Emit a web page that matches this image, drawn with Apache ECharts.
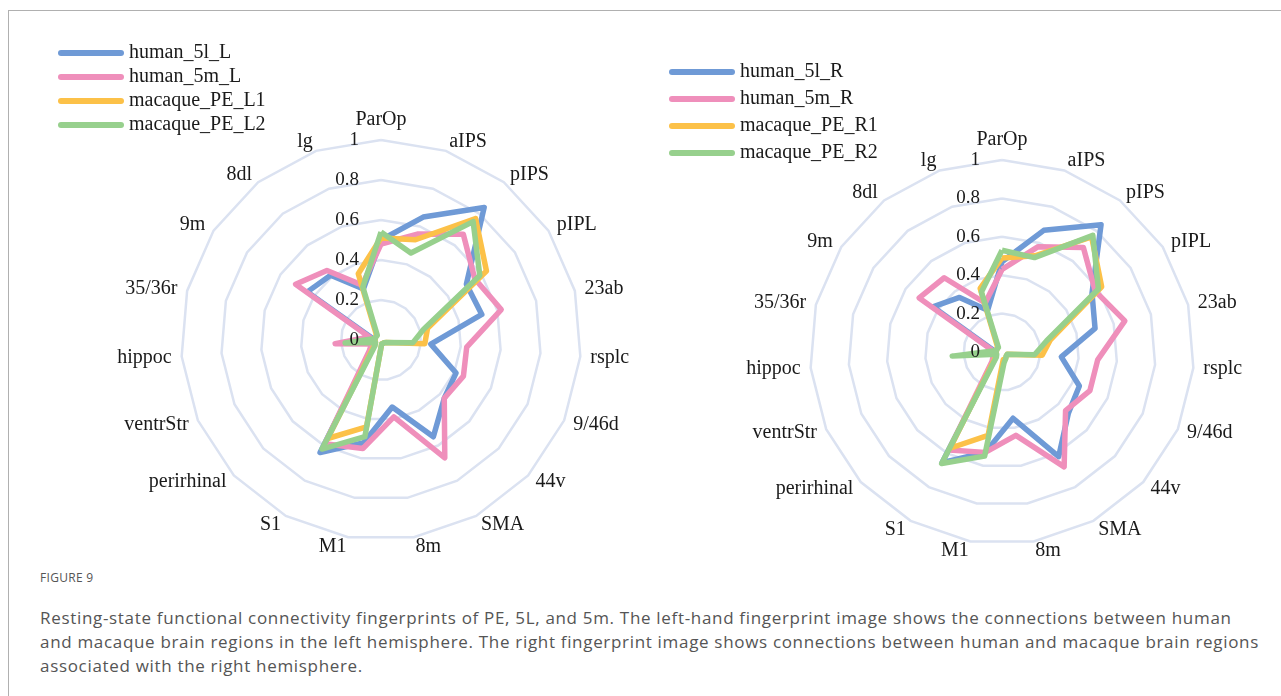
<!DOCTYPE html>
<html><head><meta charset="utf-8">
<script src="https://cdn.jsdelivr.net/npm/echarts@6/dist/echarts.min.js"></script>
<style>
html,body{margin:0;padding:0;background:#fff;}
#wrap{position:relative;width:1281px;height:696px;overflow:hidden;background:#fff;}
#frame{position:absolute;left:8px;top:10px;width:1400px;height:800px;border-left:1px solid #b0b0b0;border-top:1px solid #b0b0b0;}
#chart{position:absolute;left:0;top:0;width:1281px;height:560px;}
#fig{position:absolute;left:40px;top:569px;font:12px 'Open Sans';color:#555;letter-spacing:0.3px;}
#cap{position:absolute;left:40px;top:606px;font:17px/24px 'Open Sans';color:#555;letter-spacing:0.68px;white-space:nowrap;}
</style></head>
<body>
<div id="wrap">
  <div id="frame"></div>
  <div id="chart"></div>
  <div id="fig">FIGURE 9</div>
  <div id="cap">Resting-state functional connectivity fingerprints of PE, 5L, and 5m. The left-hand fingerprint image shows the connections between human<br>and macaque brain regions in the left hemisphere. The right fingerprint image shows connections between human and macaque brain regions<br>associated with the right hemisphere.</div>
</div>
<script>
// Categories in clockwise order starting at the top
const categories = ['ParOp','aIPS','pIPS','pIPL','23ab','rsplc','9/46d','44v','SMA','8m','M1','S1','perirhinal','ventrStr','hippoc','35/36r','9m','8dl','lg'];

// Left hemisphere
const human_5l_L    = [0.50,0.65,0.84,0.51,0.52,0.25,0.41,0.43,0.55,0.34,0.52,0.64,0.06,0.04,0.03,0.05,0.44,0.41,0.27];
const human_5m_L    = [0.48,0.56,0.67,0.56,0.62,0.43,0.45,0.43,0.67,0.39,0.55,0.59,0.08,0.05,0.23,0.06,0.51,0.44,0.29];
const macaque_PE_L1 = [0.51,0.53,0.77,0.63,0.24,0.22,0.03,0.02,0.02,0.02,0.44,0.56,0.05,0.03,0.03,0.03,0.03,0.04,0.35];
const macaque_PE_L2 = [0.54,0.46,0.75,0.59,0.22,0.16,0.03,0.02,0.02,0.02,0.49,0.62,0.04,0.03,0.18,0.03,0.03,0.03,0.28];

// Right hemisphere
const human_5l_R    = [0.47,0.67,0.84,0.56,0.50,0.31,0.44,0.47,0.62,0.35,0.53,0.655,0.05,0.04,0.03,0.05,0.43,0.36,0.23];
const human_5m_R    = [0.43,0.58,0.69,0.58,0.66,0.50,0.50,0.45,0.68,0.44,0.53,0.58,0.07,0.05,0.04,0.06,0.515,0.49,0.27];
const macaque_PE_R1 = [0.49,0.53,0.76,0.62,0.26,0.21,0.03,0.03,0.04,0.04,0.44,0.57,0.05,0.04,0.03,0.03,0.03,0.04,0.35];
const macaque_PE_R2 = [0.53,0.52,0.77,0.60,0.24,0.17,0.03,0.03,0.04,0.06,0.55,0.66,0.04,0.03,0.26,0.03,0.03,0.03,0.33];

const leftNames  = ['human_5l_L','human_5m_L','macaque_PE_L1','macaque_PE_L2'];
const rightNames = ['human_5l_R','human_5m_R','macaque_PE_R1','macaque_PE_R2'];
const tickLabels = ['0','0.2','0.4','0.6','0.8','1'];

const colors = ['#6f9ad6','#ef8fbb','#fcc148','#97d08d'];
const serif = 'Liberation Serif';

// ECharts radar runs counter-clockwise; reorder so the picture runs clockwise
const n = categories.length;
const order = [0].concat(Array.from({length:n-1},(_,k)=>n-1-k));
const reorder = arr => order.map(i => arr[i]);

const labelStyle = {margin:22, color:'#1a1a1a', fontFamily:serif, fontSize:19,
  formatter: v => tickLabels[Math.round(v*5)]};

function indicators(withLabels){
  return order.map((i,k) => {
    const o = {name: categories[i], min:0, max:1};
    if (withLabels && k === 0) o.axisLabel = Object.assign({show:true}, labelStyle);
    return o;
  });
}
// main grid with names
function radarMain(center, radius){
  return {
    center, radius, shape:'polygon', splitNumber:5, startAngle:90, z:1,
    indicator: indicators(false),
    axisName:{color:'#1a1a1a', fontFamily:serif, fontSize:20},
    nameGap:10,
    axisLine:{show:false}, axisTick:{show:false}, axisLabel:{show:false},
    splitLine:{lineStyle:{color:'#dbe2f1', width:2.5}},
    splitArea:{show:false}
  };
}
// overlay carrying only the tick labels, drawn above the lines
function radarLabels(center, radius){
  return {
    center, radius, shape:'polygon', splitNumber:5, startAngle:90, z:10,
    indicator: indicators(true),
    axisName:{show:false},
    axisLine:{show:false}, axisTick:{show:false},
    axisLabel:Object.assign({show:false}, labelStyle),
    splitLine:{show:false}, splitArea:{show:false}
  };
}
function series(name, values, idx, color){
  return {type:'radar', radarIndex:idx, name, symbol:'none', silent:true,
    lineStyle:{width:5.5, color}, itemStyle:{color},
    data:[{name, value: reorder(values)}]};
}
const capsule = 'path://M3,0H63A3,3,0,0,1,63,6H3A3,3,0,0,1,3,0Z';
function legend(names, left, top, gap){
  return {orient:'vertical', left, top, padding:0, itemWidth:66, itemHeight:6, itemGap:gap,
    icon:capsule, data:names, selectedMode:false,
    textStyle:{fontFamily:serif, fontSize:20, color:'#1a1a1a'}};
}

const chart = echarts.init(document.getElementById('chart'), null, {renderer:'canvas'});
chart.setOption({
  animation:false,
  backgroundColor:'transparent',
  legend:[legend(leftNames, 58, 43, 4), legend(rightNames, 669, 62, 7)],
  radar:[radarMain([381,340],200), radarMain([1002,352],192),
         radarLabels([381,340],200), radarLabels([1002,352],192)],
  series:[
    series(leftNames[0], human_5l_L, 0, colors[0]),
    series(leftNames[1], human_5m_L, 0, colors[1]),
    series(leftNames[2], macaque_PE_L1, 0, colors[2]),
    series(leftNames[3], macaque_PE_L2, 0, colors[3]),
    series(rightNames[0], human_5l_R, 1, colors[0]),
    series(rightNames[1], human_5m_R, 1, colors[1]),
    series(rightNames[2], macaque_PE_R1, 1, colors[2]),
    series(rightNames[3], macaque_PE_R2, 1, colors[3])
  ]
});
</script>
</body></html>
